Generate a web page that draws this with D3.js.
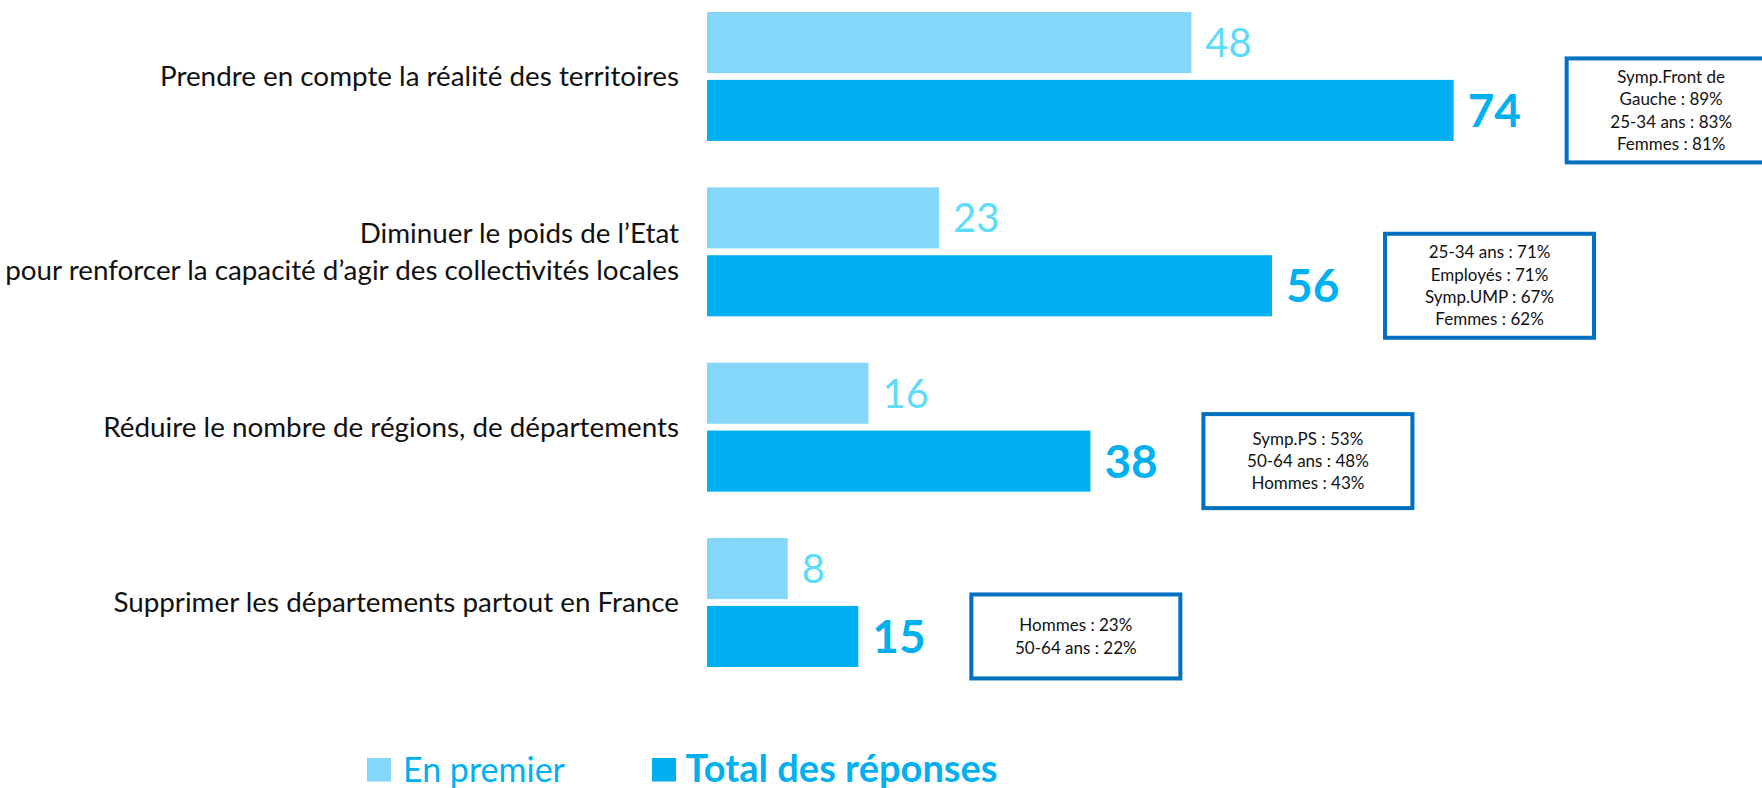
<!DOCTYPE html>
<html>
<head>
<meta charset="utf-8">
<script src="https://cdn.jsdelivr.net/npm/d3@7"></script>
<style>
  body { margin: 0; background: #fff; }
  svg { display: block; font-family: Lato, "Open Sans", sans-serif; }
</style>
</head>
<body>
<div id="chart"></div>
<script>
// Data
var categories = [
  ["Prendre en compte la réalité des territoires"],
  ["Diminuer le poids de l’Etat", "pour renforcer la capacité d’agir des collectivités locales"],
  ["Réduire le nombre de régions, de départements"],
  ["Supprimer les départements partout en France"]
];
var seriesNames = ["En premier", "Total des réponses"];
var enPremier = [48, 23, 16, 8];
var totalReponses = [74, 56, 38, 15];
var notes = [
  ["Symp.Front de", "Gauche : 89%", "25-34 ans : 83%", "Femmes : 81%"],
  ["25-34 ans : 71%", "Employés : 71%", "Symp.UMP : 67%", "Femmes : 62%"],
  ["Symp.PS : 53%", "50-64 ans : 48%", "Hommes : 43%"],
  ["Hommes : 23%", "50-64 ans : 22%"]
];

var width = 1762,
    height = 788;

var colors = { bar: ["#84d7f8", "#00b0f0"], value: ["#5cdcf9", "#00b0f0"] };

var svg = d3.select("#chart").append("svg")
    .attr("width", width)
    .attr("height", height);

var xScale = d3.scaleLinear()
    .domain([0, 100])
    .range([707, 1716]);

var yScale = d3.scaleBand()
    .domain(d3.range(categories.length))
    .range([12, 667])
    .paddingInner(0.2645);

var subScale = d3.scaleBand()
    .domain([0, 1])
    .range([0, yScale.bandwidth()])
    .paddingInner(0.1);

var rows = categories.map(function(c, i) {
  return {
    label: c,
    values: [enPremier[i], totalReponses[i]],
    note: notes[i]
  };
});

var group = svg.selectAll(".group")
    .data(rows)
  .enter().append("g")
    .attr("class", "group")
    .attr("transform", function(d, i) { return "translate(0," + yScale(i) + ")"; });

// Category labels
group.append("text")
    .attr("class", "category")
    .attr("x", 679)
    .attr("text-anchor", "end")
    .style("font-size", "27.8px")
    .style("fill", "#111")
    .each(function(d) {
      var n = d.label.length;
      d3.select(this).selectAll("tspan")
          .data(d.label)
        .enter().append("tspan")
          .attr("x", 679)
          .attr("y", function(t, j) {
            return yScale.bandwidth() / 2 + (j - (n - 1) / 2) * 37;
          })
          .attr("dy", "0.35em")
          .text(function(t) { return t; });
    });

// Bars
group.selectAll(".bar")
    .data(function(d) { return d.values; })
  .enter().append("rect")
    .attr("class", "bar")
    .attr("x", xScale(0))
    .attr("y", function(v, j) { return subScale(j); })
    .attr("width", function(v) { return xScale(v) - xScale(0); })
    .attr("height", subScale.bandwidth())
    .style("fill", function(v, j) { return colors.bar[j]; });

// Value labels
group.selectAll(".value")
    .data(function(d) { return d.values; })
  .enter().append("text")
    .attr("class", "value")
    .attr("x", function(v) { return xScale(v) + 14; })
    .attr("y", function(v, j) { return subScale(j) + subScale.bandwidth() / 2; })
    .attr("dy", "0.36em")
    .style("font-size", function(v, j) { return j ? "46px" : "40px"; })
    .style("font-weight", function(v, j) { return j ? "bold" : "normal"; })
    .style("fill", function(v, j) { return colors.value[j]; })
    .text(function(v) { return v; });

// Note boxes next to the totals
var boxW = 209,
    lineH = 22.3;

var note = group.append("g")
    .attr("class", "note")
    .attr("transform", function(d) {
      var h = 64 + 10 * d.note.length,
          cy = subScale(1) + subScale.bandwidth() / 2;
      d.boxH = h;
      return "translate(" + (xScale(d.values[1]) + 113) + "," + (cy - h / 2) + ")";
    });

note.append("rect")
    .attr("width", boxW)
    .attr("height", function(d) { return d.boxH; })
    .style("fill", "#fff")
    .style("stroke", "#0070c0")
    .style("stroke-width", 4);

note.each(function(d) {
  var n = d.note.length;
  d3.select(this).selectAll("text")
      .data(d.note)
    .enter().append("text")
      .attr("x", boxW / 2)
      .attr("y", function(t, j) { return d.boxH / 2 + (j - (n - 1) / 2) * lineH; })
      .attr("dy", "0.35em")
      .attr("text-anchor", "middle")
      .style("font-size", "17px")
      .style("fill", "#111")
      .text(function(t) { return t; });
});

// Legend
var legendX = [367, 652];

var legend = svg.selectAll(".legend")
    .data(seriesNames)
  .enter().append("g")
    .attr("class", "legend")
    .attr("transform", function(d, i) { return "translate(" + legendX[i] + ",758)"; });

legend.append("rect")
    .attr("width", 24)
    .attr("height", 23.5)
    .style("fill", function(d, i) { return colors.bar[i]; });

legend.append("text")
    .attr("x", function(d, i) { return i ? 33.5 : 36; })
    .attr("y", 23.5)
    .style("font-size", function(d, i) { return i ? "38px" : "34px"; })
    .style("font-weight", function(d, i) { return i ? "bold" : "normal"; })
    .style("fill", "#00b0f0")
    .text(function(d) { return d; });
</script>
</body>
</html>
